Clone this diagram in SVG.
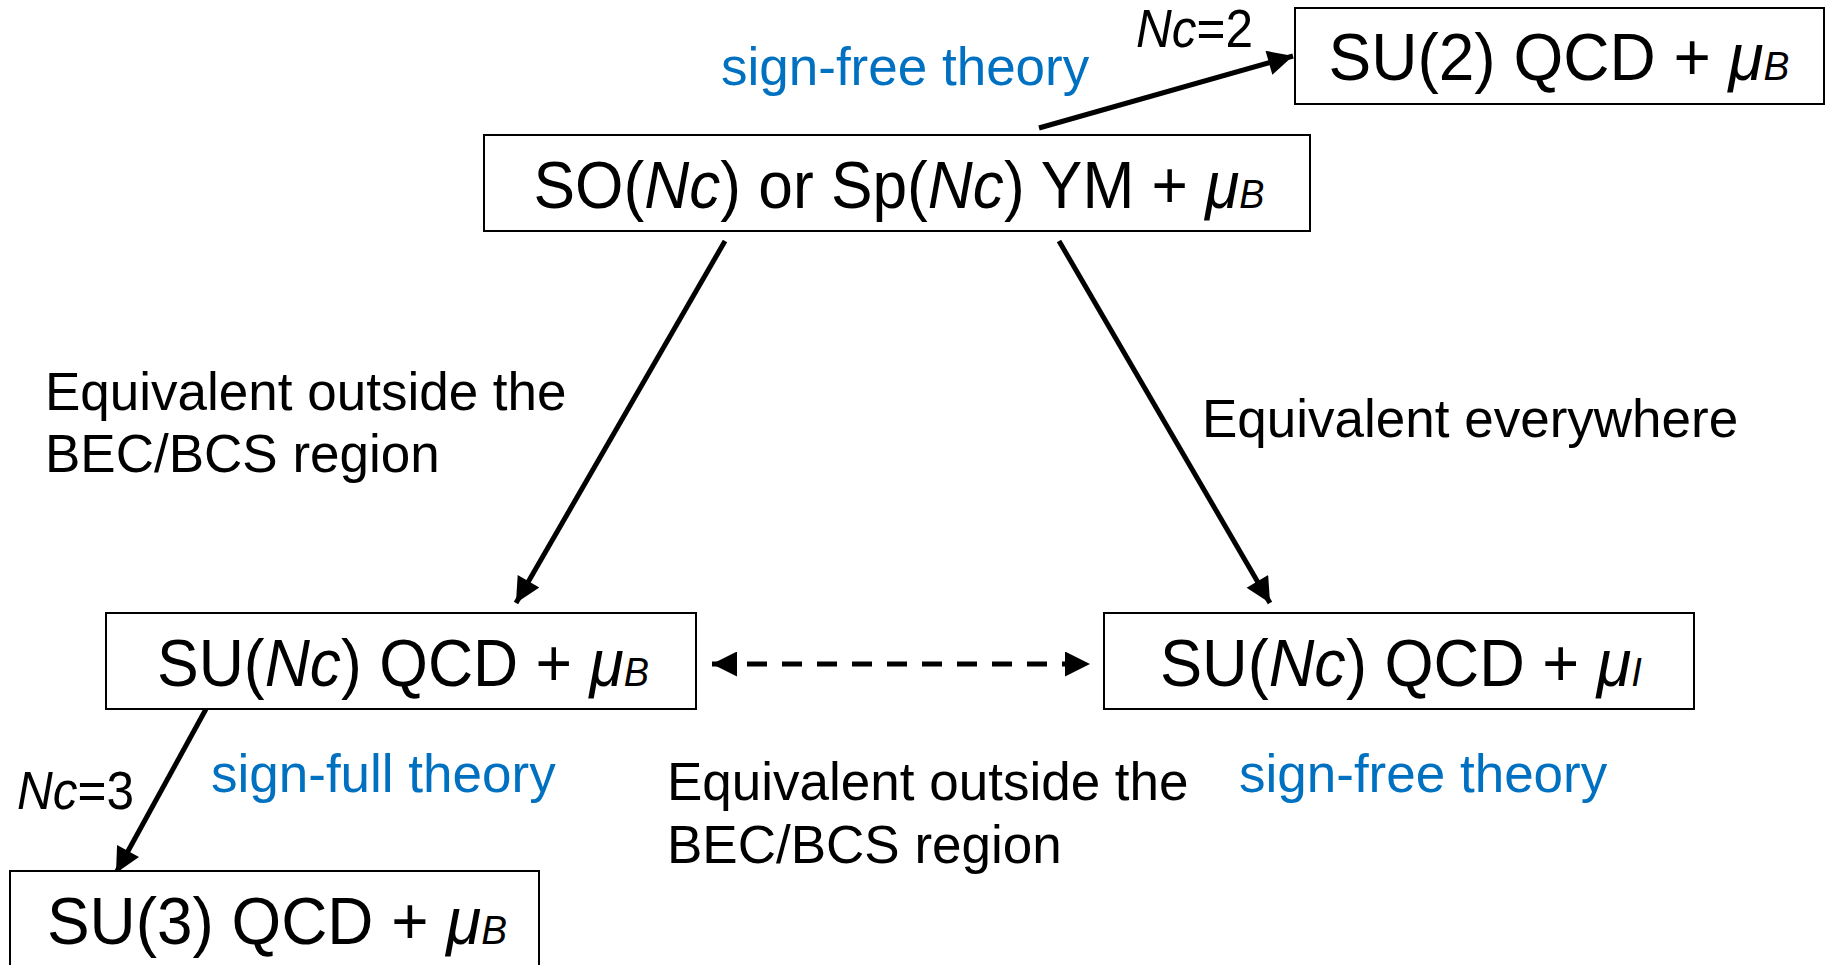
<svg xmlns="http://www.w3.org/2000/svg" width="1826" height="965" viewBox="0 0 1826 965">
<style>
  .box { fill: #ffffff; stroke: #000000; stroke-width: 2; }
  .bt { font-family: "Liberation Sans", Arial, sans-serif; font-size: 66px; fill: #000000; text-anchor: middle; }
  .lbl { font-family: "Liberation Sans", Arial, sans-serif; font-size: 53px; fill: #000000; }
  .blue { fill: #0070C0; }
  .it { font-style: italic; }
  .sub { font-style: italic; font-size: 40px; }
  .arr { stroke: #000000; stroke-width: 5; fill: none; }
</style>
<defs>
  <marker id="ah" viewBox="0 0 10 10" refX="10" refY="5" markerWidth="6" markerHeight="5" markerUnits="strokeWidth" orient="auto-start-reverse">
    <path d="M0,0 L10,5 L0,10 z" fill="#000000"/>
  </marker>
</defs>
<rect width="1826" height="965" fill="#ffffff"/>

<g id="connectors">
  <line class="arr" x1="1039" y1="128" x2="1293" y2="56" marker-end="url(#ah)"/>
  <line class="arr" x1="725" y1="241" x2="516" y2="603" marker-end="url(#ah)"/>
  <line class="arr" x1="1059" y1="241" x2="1270" y2="603" marker-end="url(#ah)"/>
  <line class="arr" x1="712" y1="664" x2="1090" y2="664" stroke-dasharray="20 15" marker-start="url(#ah)" marker-end="url(#ah)"/>
  <line class="arr" x1="206" y1="709" x2="116" y2="873" marker-end="url(#ah)"/>
</g>

<g id="node-su2">
  <rect class="box" x="1295" y="8" width="529" height="96"/>
  <text class="bt" x="1559" y="80" textLength="461" lengthAdjust="spacingAndGlyphs">SU(2) QCD + <tspan class="it">μ</tspan><tspan class="sub">B</tspan></text>
</g>

<g id="node-so">
  <rect class="box" x="484" y="135" width="826" height="96"/>
  <text class="bt" x="899" y="208" textLength="731" lengthAdjust="spacingAndGlyphs">SO(<tspan class="it">Nc</tspan>) or Sp(<tspan class="it">Nc</tspan>) YM + <tspan class="it">μ</tspan><tspan class="sub">B</tspan></text>
</g>

<g id="node-sunc-b">
  <rect class="box" x="106" y="613" width="590" height="96"/>
  <text class="bt" x="403" y="686" textLength="492" lengthAdjust="spacingAndGlyphs">SU(<tspan class="it">Nc</tspan>) QCD + <tspan class="it">μ</tspan><tspan class="sub">B</tspan></text>
</g>

<g id="node-sunc-i">
  <rect class="box" x="1104" y="613" width="590" height="96"/>
  <text class="bt" x="1401" y="686" textLength="482" lengthAdjust="spacingAndGlyphs">SU(<tspan class="it">Nc</tspan>) QCD + <tspan class="it">μ</tspan><tspan class="sub">I</tspan></text>
</g>

<g id="node-su3">
  <rect class="box" x="10" y="871" width="529" height="100"/>
  <text class="bt" x="277" y="944" textLength="460" lengthAdjust="spacingAndGlyphs">SU(3) QCD + <tspan class="it">μ</tspan><tspan class="sub">B</tspan></text>
</g>

<g id="labels">
  <text class="lbl" x="1136" y="47" textLength="117" lengthAdjust="spacingAndGlyphs"><tspan class="it">Nc</tspan>=2</text>
  <text class="lbl blue" x="721" y="85">sign-free theory</text>
  <text class="lbl" x="45" y="410">Equivalent outside the</text>
  <text class="lbl" x="45" y="472">BEC/BCS region</text>
  <text class="lbl" x="1202" y="437">Equivalent everywhere</text>
  <text class="lbl" x="17" y="809" textLength="117" lengthAdjust="spacingAndGlyphs"><tspan class="it">Nc</tspan>=3</text>
  <text class="lbl blue" x="211" y="792">sign-full theory</text>
  <text class="lbl" x="667" y="800">Equivalent outside the</text>
  <text class="lbl" x="667" y="863">BEC/BCS region</text>
  <text class="lbl blue" x="1239" y="792">sign-free theory</text>
</g>
</svg>
